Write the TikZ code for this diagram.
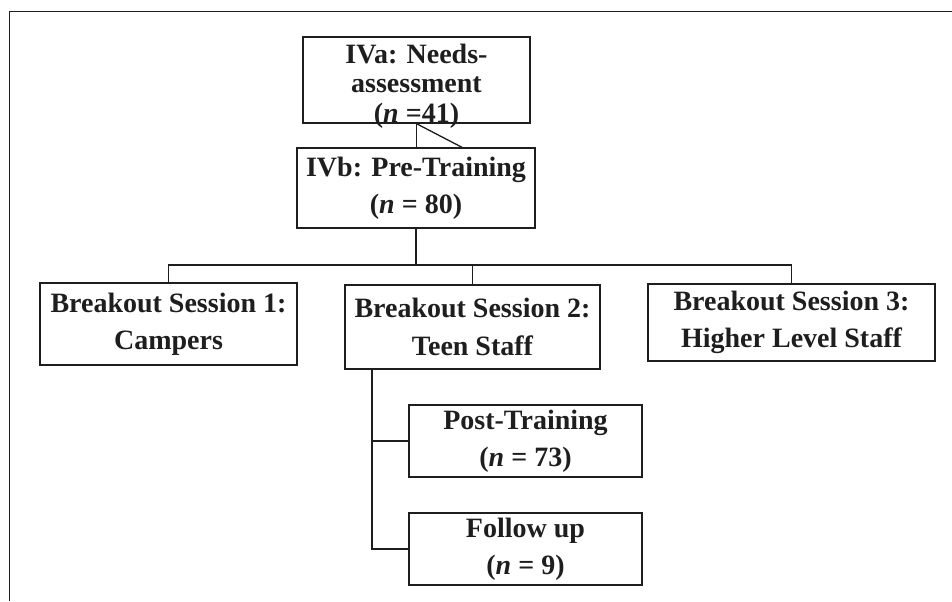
\documentclass[tikz,border=0pt]{standalone}
\usepackage{fontspec}
\setmainfont{Liberation Serif}
\usetikzlibrary{calc}
\definecolor{Ink}{HTML}{1E1E1E}
\tikzset{
  stagefont/.style={font=\fontsize{21}{28}\selectfont\bfseries},
  stagebox/.style={draw=Ink,line width=1pt,inner sep=0pt,align=center,text=Ink,stagefont},
  link/.style={draw=Ink,line width=1pt}
}
\begin{document}
\begin{tikzpicture}[x=0.75pt,y=-0.75pt]
        \useasboundingbox (0,0) rectangle (952,601);
        \draw[Ink,line width=1.3pt] (9.5,601) -- (9.5,11.5) -- (952,11.5);
        % stages
        \node[stagebox,minimum width=227*0.75pt,minimum height=86*0.75pt] (iva) at (416.5,80) {};
        \node[align=center,text=Ink,inner sep=0pt,font=\fontsize{21}{22.2}\selectfont\bfseries]
          (ivatext) at ($(iva)+(0,6)$) {IVa: Needs-\\assessment\\(\textit{n} =41)};
        \node[stagebox,minimum width=238*0.75pt,minimum height=80*0.75pt] (ivb) at (416,188)
          {IVb: Pre-Training\\(\textit{n} = 80)};
        \node[stagebox,minimum width=257*0.75pt,minimum height=82*0.75pt] (bs1) at (168.5,324)
          {Breakout Session 1:\\Campers};
        \node[stagebox,minimum width=255*0.75pt,minimum height=84*0.75pt] (bs2) at (472.5,327)
          {Breakout Session 2:\\Teen Staff};
        \node[stagebox,minimum width=287*0.75pt,minimum height=77*0.75pt] (bs3) at (791.5,322.5)
          {Breakout Session 3:\\Higher Level Staff};
        \node[stagebox,minimum width=233*0.75pt,minimum height=72*0.75pt] (post) at (525.5,441)
          {Post-Training\\(\textit{n} = 73)};
        \node[stagebox,minimum width=233*0.75pt,minimum height=72*0.75pt] (fol) at (525.5,549)
          {Follow up\\(\textit{n} = 9)};
        % connectors
        \coordinate (bus) at (416,265);
        \coordinate (stem) at (372,369);
        \draw[link] (iva.south) -- (iva.south |- ivb.north);
        \draw[link] (iva.south) -- ($(ivb.north)+(46,0)$);
        \draw[link] (ivb.south) -- (ivb.south |- bus);
        \draw[link] (bs1.north) -- (bs1.north |- bus) -| (bs3.north);
        \draw[link] (bs2.north) -- (bs2.north |- bus);
        \draw[link] (bs2.south -| stem) |- (post.west);
        \draw[link] (bs2.south -| stem) |- (fol.west);
      \end{tikzpicture}
\end{document}
